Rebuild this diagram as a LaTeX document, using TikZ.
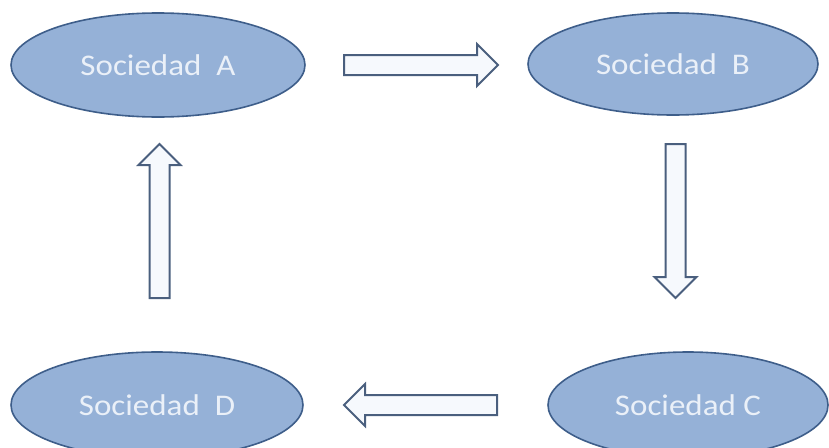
\documentclass[tikz,border=0pt]{standalone}
\usepackage{fontspec}
\setmainfont{Carlito}
\newfontfamily\labelfont[FakeStretch=1.1]{Carlito}
\usetikzlibrary{shapes.geometric,calc}

\definecolor{ellfill}{HTML}{95B1D7}
\definecolor{ellline}{HTML}{3E5E8A}
\definecolor{elltext}{HTML}{EAF0F8}
\definecolor{arrline}{HTML}{4A5F7E}
\definecolor{arrfill}{HTML}{F6F9FD}

\tikzset{
  company/.style={ellipse, draw=ellline, fill=ellfill, line width=1.6pt,
    inner sep=0pt, text=elltext, font=\labelfont\fontsize{30}{32}\selectfont},
  % block arrow outline: shaft 20 wide, head 42 wide and 21 long
  blockarrow/.style={draw=arrline, fill=arrfill, line width=2pt, line join=miter,
    to path={
      let \p1=(\tikztostart), \p2=(\tikztotarget),
          \n1={veclen(\x2-\x1,\y2-\y1)},
          \n3={(\x2-\x1)/\n1}, \n4={(\y2-\y1)/\n1}
      in ({\x1-10pt*\n4},{\y1+10pt*\n3})
      -- ({\x1+(\n1-21pt)*\n3-10pt*\n4},{\y1+(\n1-21pt)*\n4+10pt*\n3})
      -- ({\x1+(\n1-21pt)*\n3-21pt*\n4},{\y1+(\n1-21pt)*\n4+21pt*\n3})
      -- (\p2)
      -- ({\x1+(\n1-21pt)*\n3+21pt*\n4},{\y1+(\n1-21pt)*\n4-21pt*\n3})
      -- ({\x1+(\n1-21pt)*\n3+10pt*\n4},{\y1+(\n1-21pt)*\n4-10pt*\n3})
      -- ({\x1+10pt*\n4},{\y1-10pt*\n3})
      -- cycle
    }}
}

\begin{document}
\begin{tikzpicture}[x=1pt,y=-1pt]
  \useasboundingbox (0,0) rectangle (829,447);

  \node[company, minimum width=294pt, minimum height=104pt] (A) at (158,65) {Sociedad\ \ A};
  \node[company, minimum width=290pt, minimum height=102pt] (B) at (673,64) {Sociedad\ \ B};
  \node[company, minimum width=280pt, minimum height=106pt] (C) at (688,405) {Sociedad C};
  \node[company, minimum width=292pt, minimum height=106pt] (D) at (157,405) {Sociedad\ \ D};

  % arrow ends
  \coordinate (ab0) at (344,65);
  \coordinate (ab1) at (498,65);
  \coordinate (bc0) at (675.5,144);
  \coordinate (bc1) at (675.5,298);
  \coordinate (cd0) at (497,405);
  \coordinate (cd1) at (344,405);
  \coordinate (da0) at (159.5,298);
  \coordinate (da1) at (159.5,144);

  \draw[blockarrow] (ab0) to (ab1);
  \draw[blockarrow] (bc0) to (bc1);
  \draw[blockarrow] (cd0) to (cd1);
  \draw[blockarrow] (da0) to (da1);
\end{tikzpicture}
\end{document}
